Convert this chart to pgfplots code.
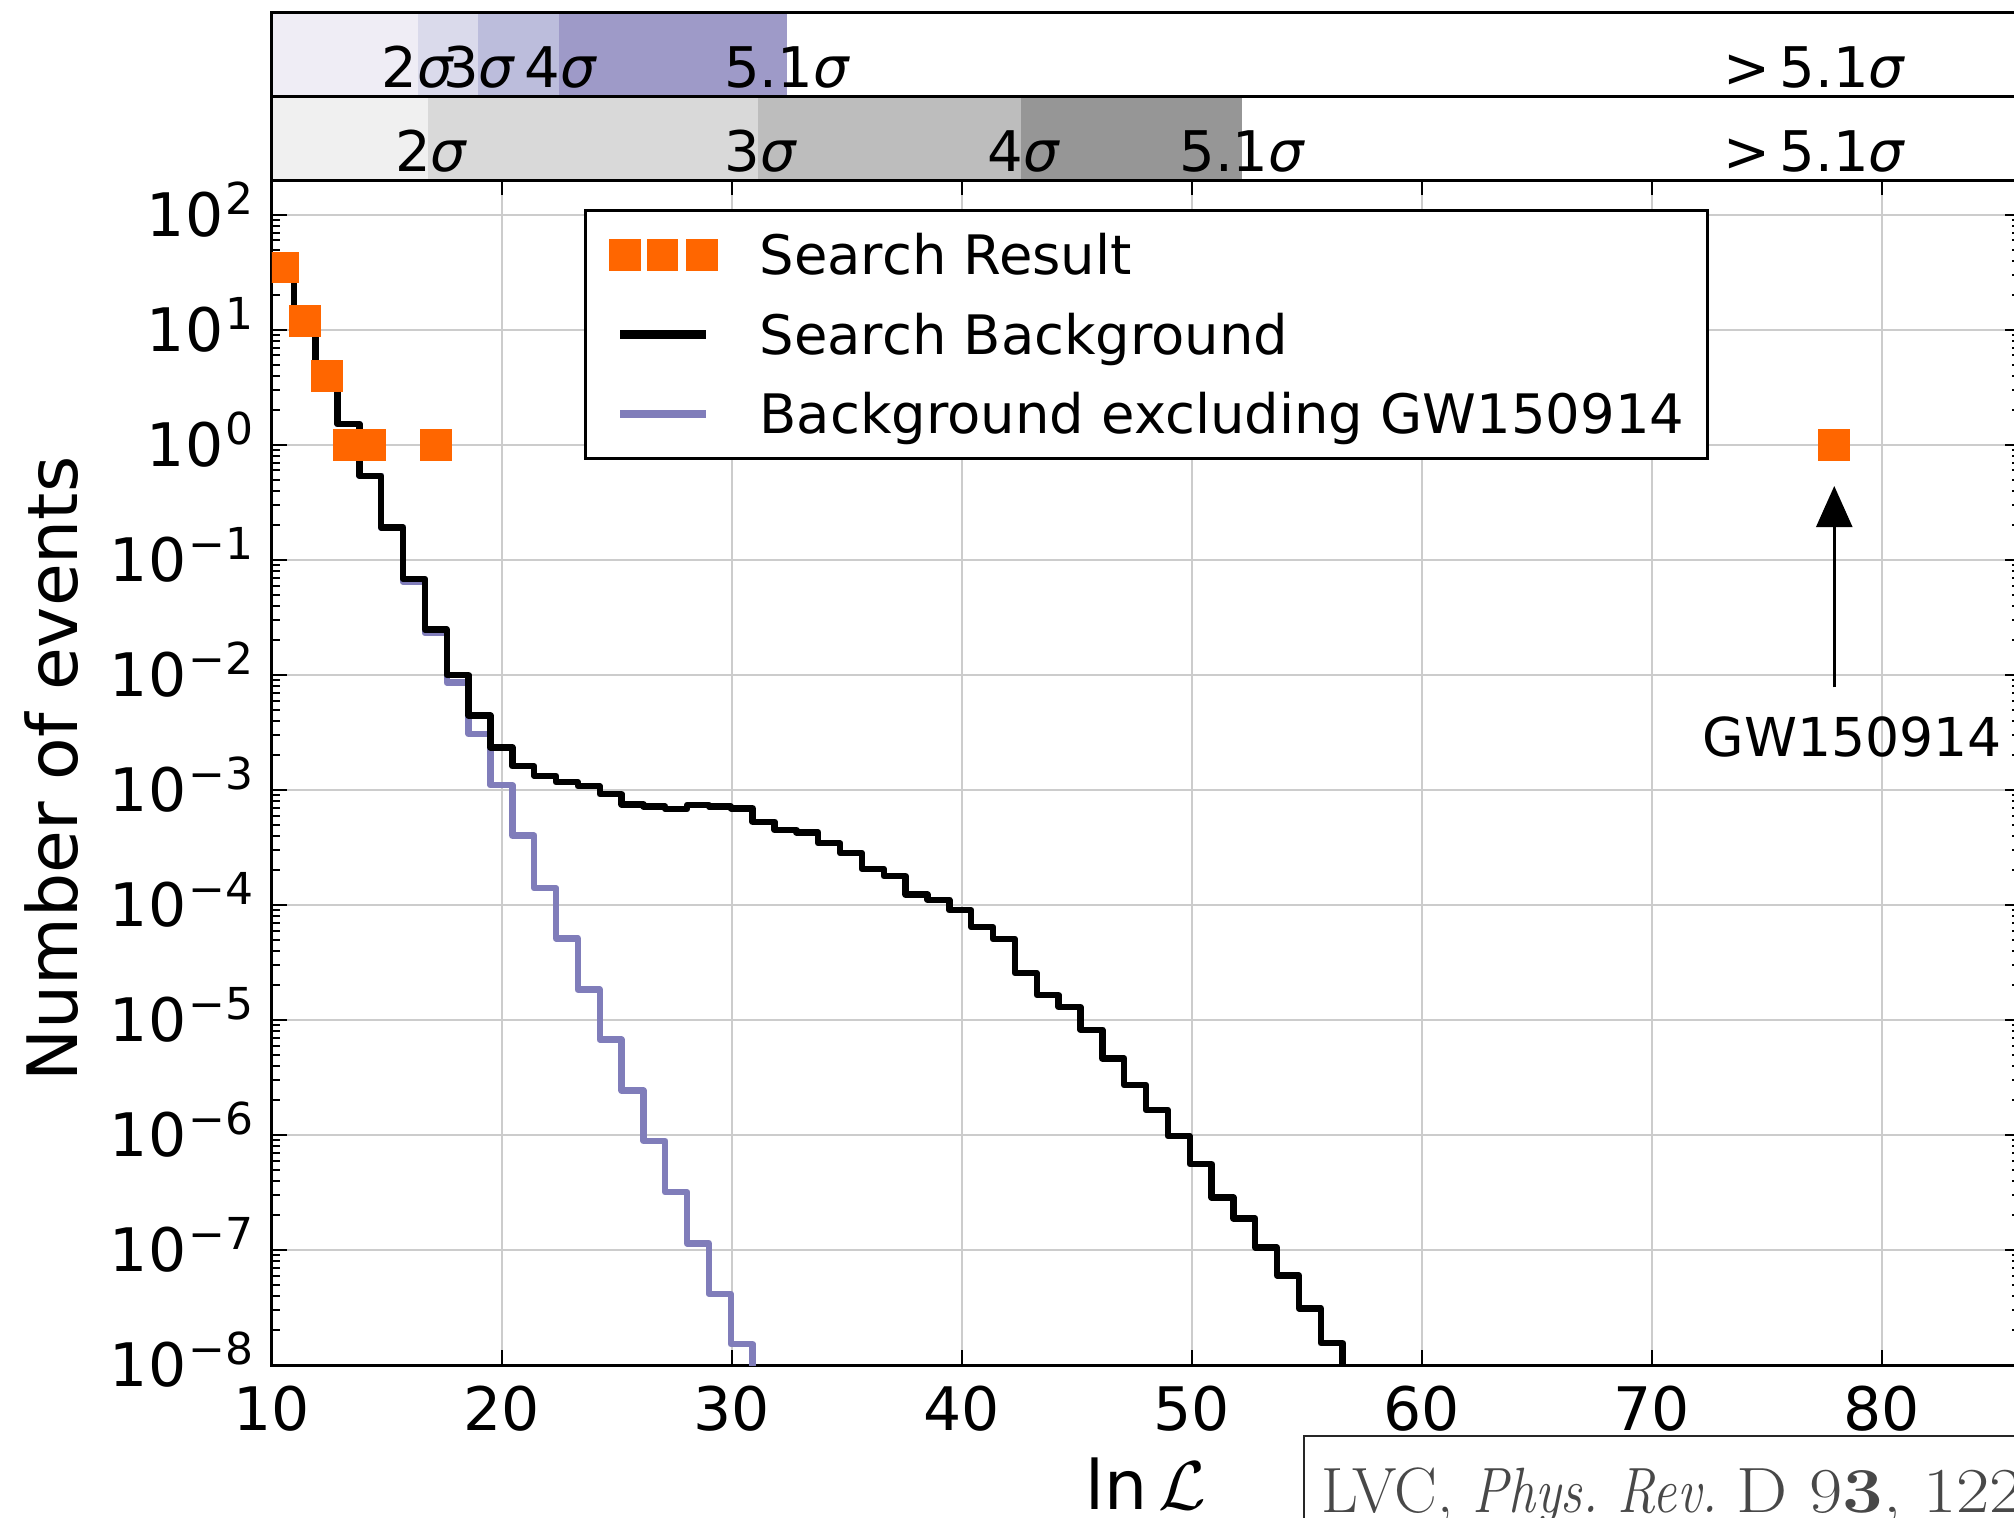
\documentclass[border=0pt]{standalone}
\usepackage{fontspec}
\setsansfont{DejaVu Sans}
\renewcommand{\familydefault}{\sfdefault}
\usepackage{pgfplots}
\pgfplotsset{compat=1.18}
\usetikzlibrary{arrows.meta}

\definecolor{myorange}{RGB}{255,102,0}
\definecolor{mypurple}{RGB}{128,125,186}
\definecolor{gridgray}{RGB}{204,204,204}
\definecolor{pu1}{RGB}{239,237,245}
\definecolor{pu2}{RGB}{218,218,235}
\definecolor{pu3}{RGB}{188,189,220}
\definecolor{pu4}{RGB}{158,154,200}
\definecolor{gr1}{RGB}{240,240,240}
\definecolor{gr2}{RGB}{217,217,217}
\definecolor{gr3}{RGB}{189,189,189}
\definecolor{gr4}{RGB}{150,150,150}
\definecolor{citegray}{RGB}{72,72,72}

\newcommand{\tp}[1]{10\kern0.6pt\raisebox{5.6pt}{\fontsize{11}{13}\selectfont #1}}

\pgfplotstableread{
x y
10.00 38
10.95 12
11.90 3.9
12.85 1.52
13.80 0.54
14.75 0.192
15.70 0.0684
16.65 0.0248
17.60 0.0100
18.55 0.00443
19.50 0.00235
20.45 0.00161
21.40 0.00133
22.35 0.00117
23.30 0.00108
24.25 0.000923
25.20 0.000750
26.15 0.000721
27.10 0.000684
28.05 0.000741
29.00 0.000716
29.95 0.000692
30.90 0.000530
31.85 0.000449
32.80 0.000428
33.75 0.000344
34.70 0.000283
35.65 0.000206
36.60 0.000178
37.55 0.000123
38.50 0.000111
39.45 9.0e-5
40.40 6.42e-5
41.35 5.06e-5
42.30 2.56e-5
43.25 1.65e-5
44.20 1.30e-5
45.15 8.22e-6
46.10 4.63e-6
47.05 2.72e-6
48.00 1.65e-6
48.95 9.8e-7
49.90 5.6e-7
50.85 2.86e-7
51.80 1.88e-7
52.75 1.05e-7
53.70 6.0e-8
54.65 3.11e-8
55.60 1.55e-8
56.55 1e-9
}\bgtable

\pgfplotstableread{
x y
10.00 38
10.95 12
11.90 3.9
12.85 1.52
13.80 0.54
14.75 0.19
15.70 0.0647
16.65 0.0232
17.60 0.0086
18.55 0.00307
19.50 0.00110
20.45 4.01e-4
21.40 1.40e-4
22.35 5.13e-5
23.30 1.84e-5
24.25 6.75e-6
25.20 2.43e-6
26.15 8.9e-7
27.10 3.18e-7
28.05 1.14e-7
29.00 4.15e-8
29.95 1.52e-8
30.90 1e-9
}\exctable

\pgfplotstableread{
x y
10.475 35
11.425 12
12.375 4
13.325 1
14.275 1
17.125 1
77.925 1
}\restable

\begin{document}
\begin{tikzpicture}
% ---------------- main axis ----------------
\begin{axis}[
  at={(0pt,0pt)}, anchor=south west,
  scale only axis,
  width=437pt, height=296.155pt,
  xmin=10, xmax=86,
  ymode=log, ymin=1e-8, ymax=200,
  axis line style={line width=0.75pt, black},
  grid=major,
  major grid style={line width=0.5pt, draw=gridgray},
  tick align=inside,
  major tick length=3.75pt,
  minor tick length=1.9pt,
  tick style={black, line width=0.5pt},
  xtick={10,20,30,40,50,60,70,80},
  xticklabels={10,20,30,40,50,60,70,80},
  ytick={1e-8,1e-7,1e-6,1e-5,1e-4,1e-3,1e-2,1e-1,1,10,100},
  yticklabels={\tp{−8},\tp{−7},\tp{−6},\tp{−5},\tp{−4},\tp{−3},\tp{−2},\tp{−1},\tp{0},\tp{1},\tp{2}},
  minor ytick={2e-8,3e-8,4e-8,5e-8,6e-8,7e-8,8e-8,9e-8,
               2e-7,3e-7,4e-7,5e-7,6e-7,7e-7,8e-7,9e-7,
               2e-6,3e-6,4e-6,5e-6,6e-6,7e-6,8e-6,9e-6,
               2e-5,3e-5,4e-5,5e-5,6e-5,7e-5,8e-5,9e-5,
               2e-4,3e-4,4e-4,5e-4,6e-4,7e-4,8e-4,9e-4,
               2e-3,3e-3,4e-3,5e-3,6e-3,7e-3,8e-3,9e-3,
               2e-2,3e-2,4e-2,5e-2,6e-2,7e-2,8e-2,9e-2,
               0.2,0.3,0.4,0.5,0.6,0.7,0.8,0.9,
               2,3,4,5,6,7,8,9,
               20,30,40,50,60,70,80,90},
  xticklabel style={font=\fontsize{15}{18}\selectfont, anchor=north, inner sep=0pt, yshift=-5pt},
  yticklabel style={font=\fontsize{15}{18}\selectfont, anchor=base east, inner sep=0pt, xshift=-4.4pt, yshift=-5.47pt},
  xlabel={ln\,$\mathcal{L}$},
  ylabel={Number of events},
  every axis x label/.style={at={(axis description cs:0.5,-0.1216)}, anchor=base, font=\fontsize{17}{20}\selectfont},
  every axis y label/.style={at={(axis description cs:-0.1110,0.503)}, rotate=90, anchor=base, font=\fontsize{17.4}{20}\selectfont},
  clip marker paths=true,
  legend cell align=left,
  legend style={
    at={(axis description cs:0.17849,0.97584)}, anchor=north west,
    draw=black, line width=0.8pt, fill=white,
    inner xsep=5.9pt, inner ysep=6.2pt,
    row sep=9.95pt, column sep=10.5pt,
    nodes={inner sep=0pt, text height=9.9pt, text depth=0pt, font=\fontsize{13.6}{16}\selectfont},
  },
]
\addlegendimage{legend image code/.code={
  \fill[myorange, draw=none] (0pt,-3.95pt) rectangle (7.9pt,3.95pt);
  \fill[myorange, draw=none] (9.4pt,-3.95pt) rectangle (17.3pt,3.95pt);
  \fill[myorange, draw=none] (19.2pt,-3.95pt) rectangle (27.1pt,3.95pt);}}
\addlegendentry{Search Result}
\addlegendimage{legend image code/.code={
  \path[draw=none, fill=none] (0pt,-3.95pt) rectangle (27.1pt,3.95pt);
  \draw[black, line width=2.3pt] (2.8pt,0pt) -- (24.1pt,0pt);}}
\addlegendentry{Search Background}
\addlegendimage{legend image code/.code={
  \path[draw=none, fill=none] (0pt,-3.95pt) rectangle (27.1pt,3.95pt);
  \draw[mypurple, line width=1.9pt] (2.8pt,0pt) -- (24.1pt,0pt);}}
\addlegendentry{Background excluding GW150914}

\addplot[const plot, mypurple, line width=1.6pt, line join=round, forget plot] table {\exctable};
\addplot[const plot, black, line width=1.6pt, line join=round, forget plot] table {\bgtable};
\addplot[only marks, mark=square*, mark size=3.85pt,
         mark options={fill=myorange, draw=myorange, line width=0.2pt}, forget plot] table {\restable};

\draw[line width=0.75pt, -{Triangle[width=9pt,length=10.3pt]}] (axis cs:77.925,0.0078) -- (axis cs:77.925,0.44);
\node[anchor=base west, inner sep=0pt, font=\fontsize{13.4}{16}\selectfont] at (axis cs:72.17,0.00195) {GW150914};
\end{axis}

% ---------------- lower sigma bar (greys) ----------------
\begin{axis}[
  at={(0pt,296.155pt)}, anchor=south west,
  scale only axis, width=437pt, height=21pt,
  xmin=10, xmax=86, ymin=0, ymax=1,
  xtick=\empty, ytick=\empty,
  axis line style={line width=0.75pt, black},
  axis on top,
]
\addplot[fill=gr1, draw=none] coordinates {(10,1) (16.78,1)} \closedcycle;
\addplot[fill=gr2, draw=none] coordinates {(16.78,1) (31.13,1)} \closedcycle;
\addplot[fill=gr3, draw=none] coordinates {(31.13,1) (42.55,1)} \closedcycle;
\addplot[fill=gr4, draw=none] coordinates {(42.55,1) (52.19,1)} \closedcycle;
\node[anchor=base, inner sep=0pt, font=\fontsize{14}{16}\selectfont] at (axis cs:16.94,0.1) {2\textit{σ}};
\node[anchor=base, inner sep=0pt, font=\fontsize{14}{16}\selectfont] at (axis cs:31.25,0.1) {3\textit{σ}};
\node[anchor=base, inner sep=0pt, font=\fontsize{14}{16}\selectfont] at (axis cs:42.7,0.1) {4\textit{σ}};
\node[anchor=base, inner sep=0pt, font=\fontsize{14}{16}\selectfont] at (axis cs:52.19,0.1) {5.1\textit{σ}};
\node[anchor=base, inner sep=0pt, font=\fontsize{14}{16}\selectfont] at (axis cs:77.07,0.1) {>\,5.1\textit{σ}};
\end{axis}

% ---------------- upper sigma bar (purples) ----------------
\begin{axis}[
  at={(0pt,317.155pt)}, anchor=south west,
  scale only axis, width=437pt, height=21pt,
  xmin=10, xmax=86, ymin=0, ymax=1,
  xtick=\empty, ytick=\empty,
  axis line style={line width=0.75pt, black},
  axis on top,
]
\addplot[fill=pu1, draw=none] coordinates {(10,1) (16.33,1)} \closedcycle;
\addplot[fill=pu2, draw=none] coordinates {(16.33,1) (18.96,1)} \closedcycle;
\addplot[fill=pu3, draw=none] coordinates {(18.96,1) (22.46,1)} \closedcycle;
\addplot[fill=pu4, draw=none] coordinates {(22.46,1) (32.39,1)} \closedcycle;
\node[anchor=base, inner sep=0pt, font=\fontsize{14}{16}\selectfont] at (axis cs:16.34,0.1) {2\textit{σ}};
\node[anchor=base, inner sep=0pt, font=\fontsize{14}{16}\selectfont] at (axis cs:19.02,0.1) {3\textit{σ}};
\node[anchor=base, inner sep=0pt, font=\fontsize{14}{16}\selectfont] at (axis cs:22.57,0.1) {4\textit{σ}};
\node[anchor=base, inner sep=0pt, font=\fontsize{14}{16}\selectfont] at (axis cs:32.4,0.1) {5.1\textit{σ}};
\node[anchor=base, inner sep=0pt, font=\fontsize{14}{16}\selectfont] at (axis cs:77.07,0.1) {>\,5.1\textit{σ}};
\end{axis}

% ---------------- citation box ----------------
\draw[line width=0.35pt, draw=black!85, fill=white] (258pt,-17.75pt) rectangle (600pt,-90pt);
\node[anchor=base west, inner sep=0pt, text=citegray, font=\rmfamily\fontsize{16}{18}\selectfont] at (262.25pt,-37pt) {LVC, \scalebox{0.84}[1]{\textit{Phys.\ Rev.}} \scalebox{1.13}[1]{D 9\textbf{3}, 122003 (2016)}};

\pgfresetboundingbox
\path[use as bounding box] (-68pt,-38.25pt) rectangle (435.5pt,341.25pt);
\end{tikzpicture}
\end{document}
